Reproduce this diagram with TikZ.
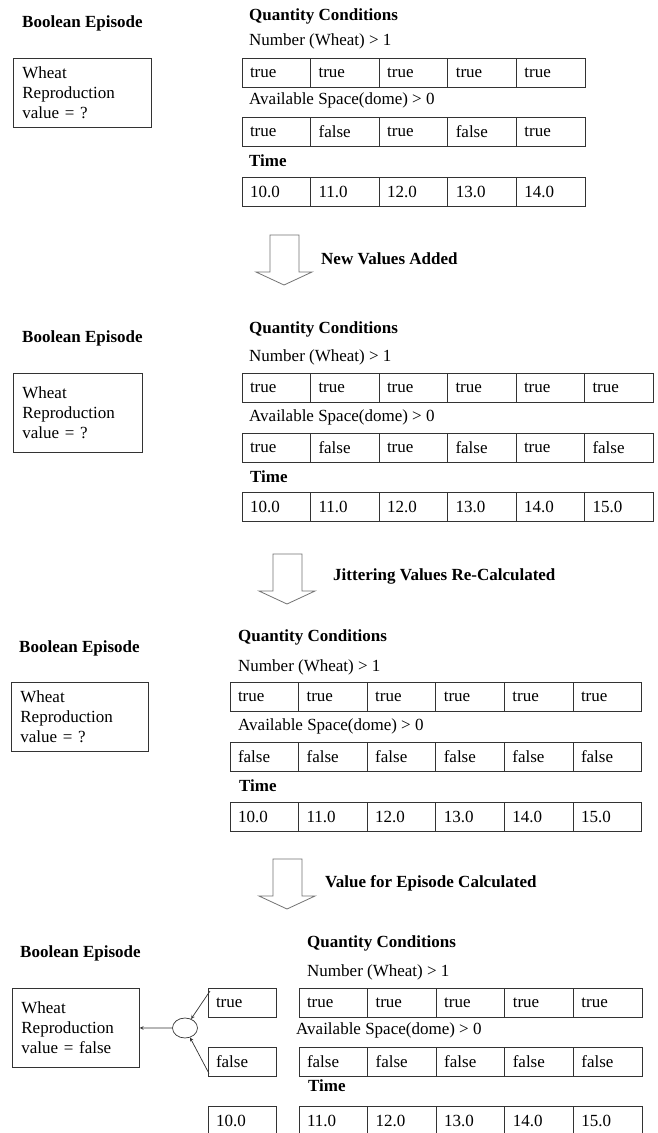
\documentclass[tikz,border=0pt]{standalone}
\usepackage{fontspec}
\setmainfont{Liberation Serif}
\usetikzlibrary{shapes.geometric, arrows, positioning}
\tikzstyle{heading} = [font=\fontsize{17}{20}\selectfont\bfseries, anchor=west, inner sep=0pt]
\tikzstyle{caption} = [anchor=west, inner sep=0pt]
\tikzstyle{episode} = [rectangle, draw=black!80, line width=0.8pt, anchor=north west, align=left, inner xsep=9pt]
\tikzstyle{cell} = [rectangle, draw=black!80, line width=0.8pt, anchor=north west, outer sep=0pt, inner xsep=8pt, text width=52.6pt, minimum height=29.5pt, align=left]
\tikzstyle{arrow} = [->, >=stealth, draw=black!80, line width=0.7pt]
\tikzstyle{bigarrow} = [draw=black!55, line width=0.8pt, fill=white]

\begin{document}
\begin{tikzpicture}[x=1pt, y=-1pt, font=\fontsize{17}{20}\selectfont]
\path[fill=white] (0,0) rectangle (657,1133);
\useasboundingbox (0,0) rectangle (657,1133);

% stage 1
\node (be1) [heading] at (22,23) {Boolean Episode};
\node (ep1) [episode, text width=120pt, minimum height=69pt] at (13,58) {Wheat\\Reproduction\\value = ?};
\node (qc1) [heading] at (249,16) {Quantity Conditions};
\node (num1) [caption] at (249,41) {Number (Wheat) > 1};
\node (spc1) [caption] at (249,100) {Available Space(dome) > 0};
\node (tim1) [heading] at (249,161) {Time};
\foreach \v [count=\i] in {true,true,true,true,true}
  \node (a1\i) [cell] at ({242+68.6*(\i-1)},58) {\v};
\foreach \v [count=\i] in {true,false,true,false,true}
  \node (b1\i) [cell] at ({242+68.6*(\i-1)},117) {\v};
\foreach \v [count=\i] in {10.0,11.0,12.0,13.0,14.0}
  \node (c1\i) [cell] at ({242+68.6*(\i-1)},177) {\v};

% block arrows between stages
\foreach \ax/\ay in {270/235, 273/554, 273/859}
  \draw [bigarrow] (\ax,\ay) -- ++(29,0) -- ++(0,37) -- ++(13,0) -- ++(-28,13) -- ++(-28,-13) -- ++(14,0) -- cycle;
\node (step1) [heading] at (321,259) {New Values Added};
\node (step2) [heading] at (333,576) {Jittering Values Re-Calculated};
\node (step3) [heading] at (325,883) {Value for Episode Calculated};

% stage 2
\node (be2) [heading] at (22,338) {Boolean Episode};
\node (ep2) [episode, text width=111pt, minimum height=79pt] at (13,373) {Wheat\\Reproduction\\value = ?};
\node (qc2) [heading] at (249,329) {Quantity Conditions};
\node (num2) [caption] at (249,357) {Number (Wheat) > 1};
\node (spc2) [caption] at (249,417) {Available Space(dome) > 0};
\node (tim2) [heading] at (250,477) {Time};
\foreach \v [count=\i] in {true,true,true,true,true,true}
  \node (a2\i) [cell] at ({242+68.5*(\i-1)},373) {\v};
\foreach \v [count=\i] in {true,false,true,false,true,false}
  \node (b2\i) [cell] at ({242+68.5*(\i-1)},433) {\v};
\foreach \v [count=\i] in {10.0,11.0,12.0,13.0,14.0,15.0}
  \node (c2\i) [cell] at ({242+68.5*(\i-1)},492) {\v};

% stage 3
\node (be3) [heading] at (19,648) {Boolean Episode};
\node (ep3) [episode, text width=119pt, minimum height=69pt] at (11,682) {Wheat\\Reproduction\\value = ?};
\node (qc3) [heading] at (238,637) {Quantity Conditions};
\node (num3) [caption] at (238,667) {Number (Wheat) > 1};
\node (spc3) [caption] at (238,726) {Available Space(dome) > 0};
\node (tim3) [heading] at (239,786) {Time};
\foreach \v [count=\i] in {true,true,true,true,true,true}
  \node (a3\i) [cell] at ({230+68.6*(\i-1)},682) {\v};
\foreach \v [count=\i] in {false,false,false,false,false,false}
  \node (b3\i) [cell] at ({230+68.6*(\i-1)},742) {\v};
\foreach \v [count=\i] in {10.0,11.0,12.0,13.0,14.0,15.0}
  \node (c3\i) [cell] at ({230+68.6*(\i-1)},802) {\v};

% stage 4
\node (be4) [heading] at (20,953) {Boolean Episode};
\node (ep4) [episode, text width=109pt, minimum height=79pt] at (12,988) {Wheat\\Reproduction\\value = false};
\node (qc4) [heading] at (307,943) {Quantity Conditions};
\node (num4) [caption] at (307,972) {Number (Wheat) > 1};
\node (spc4) [caption] at (296,1030) {Available Space(dome) > 0};
\node (tim4) [heading] at (308,1086) {Time};
\node (pick1) [cell] at (208,988) {true};
\node (pick2) [cell] at (208,1047) {false};
\node (pick3) [cell] at (208,1106) {10.0};
\foreach \v [count=\i] in {true,true,true,true,true}
  \node (a4\i) [cell] at ({299+68.6*(\i-1)},988) {\v};
\foreach \v [count=\i] in {false,false,false,false,false}
  \node (b4\i) [cell] at ({299+68.6*(\i-1)},1047) {\v};
\foreach \v [count=\i] in {11.0,12.0,13.0,14.0,15.0}
  \node (c4\i) [cell] at ({299+68.6*(\i-1)},1106) {\v};
\node (merge) [ellipse, draw=black!80, line width=0.7pt, minimum width=25pt, minimum height=20pt, inner sep=0pt] at (185,1028) {};

\draw [arrow] ([xshift=2pt, yshift=-3pt]pick1.north west) -- (merge);
\draw [arrow] ([xshift=1pt, yshift=3pt]pick2.south west) -- (merge);
\draw [arrow] (merge) -- (ep4);

\end{tikzpicture}
\end{document}
